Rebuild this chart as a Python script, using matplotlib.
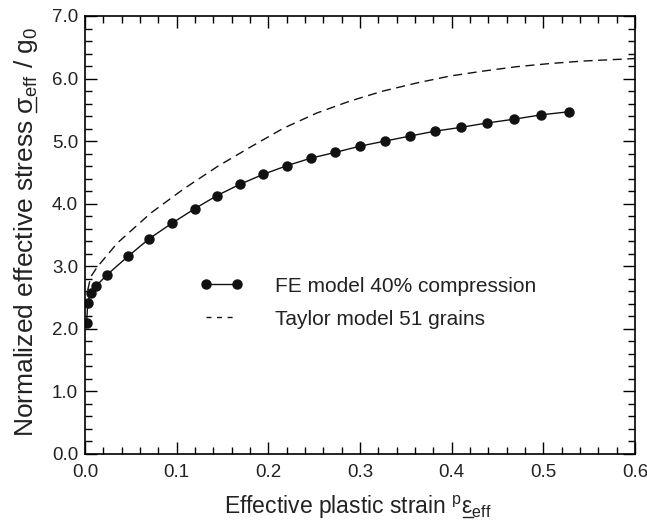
import numpy as np
import matplotlib.pyplot as plt
from matplotlib.lines import Line2D
from matplotlib.ticker import MultipleLocator, FormatStrFormatter

plt.rcParams['font.family'] = ['Liberation Sans', 'DejaVu Sans']
plt.rcParams['mathtext.fontset'] = 'custom'
plt.rcParams['mathtext.rm'] = 'Liberation Sans'
plt.rcParams['mathtext.it'] = 'Liberation Sans'
plt.rcParams['mathtext.bf'] = 'Liberation Sans:bold'

# FE model, 40% compression
fe_strain = [0.0018, 0.003, 0.0062, 0.0125, 0.0237, 0.047, 0.070, 0.095, 0.1197,
             0.144, 0.169, 0.1945, 0.2207, 0.2469, 0.273, 0.300, 0.327, 0.354,
             0.382, 0.410, 0.4385, 0.4677, 0.4975, 0.528]
fe_stress = [2.10, 2.42, 2.57, 2.69, 2.86, 3.16, 3.44, 3.69, 3.92,
             4.13, 4.31, 4.47, 4.61, 4.73, 4.82, 4.92, 5.00, 5.08,
             5.16, 5.22, 5.29, 5.35, 5.42, 5.47]

# Taylor model, 51 grains
taylor_strain = [0.003, 0.0062, 0.0134, 0.0352, 0.0717, 0.108, 0.144, 0.181, 0.217,
                 0.253, 0.289, 0.325, 0.362, 0.398, 0.4345, 0.471, 0.507, 0.543, 0.6]
taylor_stress = [2.62, 2.83, 2.99, 3.37, 3.85, 4.24, 4.59, 4.91, 5.21,
                 5.45, 5.64, 5.80, 5.93, 6.04, 6.12, 6.19, 6.24, 6.28, 6.32]

txt = '#222222'
W, H = 647, 527

fig = plt.figure(figsize=(W / 100, H / 100), dpi=100)
ax = fig.add_axes([85 / W, 1 - 454 / H, 550 / W, 438 / H])

fe_line, = ax.plot(fe_strain, fe_stress, color='#111111', lw=1.0, marker='o', ms=6.5,
                   label='FE model 40% compression')
ax.plot(taylor_strain, taylor_stress, color='#111111', lw=1.0, ls=(0, (6.5, 4)))
# legend handle for the Taylor curve uses shorter dashes, as in the original
taylor_handle = Line2D([], [], color='#111111', lw=1.0, ls=(0, (3.6, 4)),
                       label='Taylor model 51 grains')

ax.set_xlim(0, 0.6)
ax.set_ylim(0, 7)
ax.xaxis.set_major_locator(MultipleLocator(0.1))
ax.xaxis.set_minor_locator(MultipleLocator(0.02))
ax.yaxis.set_major_locator(MultipleLocator(1.0))
ax.yaxis.set_minor_locator(MultipleLocator(0.2))
ax.xaxis.set_major_formatter(FormatStrFormatter('%.1f'))
ax.yaxis.set_major_formatter(FormatStrFormatter('%.1f'))
ax.tick_params(which='both', direction='in', top=True, right=True,
               labelsize=13.5, labelcolor=txt, width=1.0)
ax.tick_params(which='major', length=8.4)
ax.tick_params(which='minor', length=5)
ax.tick_params(axis='x', pad=7)
ax.tick_params(axis='y', pad=5)
for s in ax.spines.values():
    s.set_linewidth(1.2)

ax.legend(handles=[fe_line, taylor_handle], loc='upper left',
          bbox_to_anchor=(0.209, 0.405), frameon=False,
          fontsize=15, labelcolor=txt, handlelength=2.07, handletextpad=1.54,
          labelspacing=0.68, numpoints=2, borderpad=0, borderaxespad=0)

# axis labels with an underlined symbol, drawn by hand
r = fig.canvas.get_renderer()


def text_w(s, size):
    t = fig.text(0, 0, s, fontsize=size)
    w = t.get_window_extent(renderer=r).width
    t.remove()
    return w


def label_with_underline(pre, sym, post, size, center, base, vertical):
    full = pre + sym + post
    wf = text_w(full, size)
    w0 = text_w(pre, size)
    w1 = text_w(pre + sym, size)
    start = center - wf / 2
    off = 0.17 * size
    if vertical:
        fig.text(base / W, start / H, full, fontsize=size, color=txt, rotation=90,
                 rotation_mode='anchor', ha='left', va='baseline')
        fig.add_artist(Line2D([(base + off) / W] * 2,
                              [(start + w0 + 0.5) / H, (start + w1 - 0.5) / H],
                              transform=fig.transFigure, lw=1.0, color=txt))
    else:
        fig.text(start / W, base / H, full, fontsize=size, color=txt,
                 ha='left', va='baseline')
        fig.add_artist(Line2D([(start + w0 + 0.5) / W, (start + w1 - 0.5) / W],
                              [(base - off) / H] * 2,
                              transform=fig.transFigure, lw=1.0, color=txt))


label_with_underline('Effective plastic strain $^{\\mathrm{p}}$', '\u03b5',
                     '$_{\\mathrm{eff}}$', 16.5, 358, H - 514, False)
label_with_underline('Normalized effective stress ', '\u03c3',
                     '$_{\\mathrm{eff}}$ / g$_0$', 19, H - 231.5, 33, True)

fig.savefig('out.png', dpi=100)
